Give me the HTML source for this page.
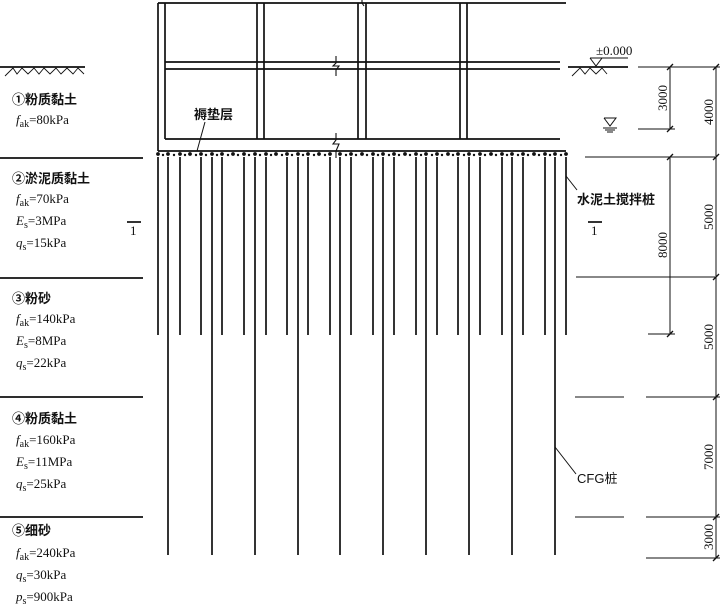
<!DOCTYPE html>
<html><head><meta charset="utf-8"><style>
body{margin:0;background:#fff;}
svg{display:block;}
text{font-family:"Liberation Serif","Noto Serif CJK SC",serif;font-size:13px;fill:#111;}
.c{font-family:"Liberation Sans","Noto Sans CJK SC",sans-serif;font-size:13px;font-weight:bold;}
</style></head><body>
<svg width="723" height="612" viewBox="0 0 723 612" xmlns="http://www.w3.org/2000/svg">
<g stroke="#111" stroke-width="1.7" fill="none">
<!-- frame -->
<line x1="158" y1="3" x2="566" y2="3"/>
<line x1="158" y1="3" x2="158" y2="151"/>
<line x1="165" y1="3" x2="165" y2="139"/>
<line x1="165" y1="139" x2="560" y2="139"/>
<line x1="158" y1="151" x2="566" y2="151"/>
<line x1="165" y1="62" x2="560" y2="62"/>
<line x1="165" y1="69" x2="560" y2="69"/>
<line x1="257" y1="3" x2="257" y2="139"/><line x1="264" y1="3" x2="264" y2="139"/>
<line x1="358" y1="3" x2="358" y2="139"/><line x1="366" y1="3" x2="366" y2="139"/>
<line x1="460" y1="3" x2="460" y2="139"/><line x1="467" y1="3" x2="467" y2="139"/>
<!-- break marks -->
<polyline points="336,56 336,63 333,66 339,66 336,70 336,76" stroke-width="1.1"/>
<polyline points="336,133 336,140 333,144 339,144 336,151 336,158" stroke-width="1.1"/>
<polyline points="362,0 362,3 364,6" stroke-width="1.1"/>
<!-- ground left -->
<line x1="0" y1="67" x2="85" y2="67"/>
<!-- ground right -->
<line x1="568" y1="67" x2="628" y2="67"/>
<polyline points="590,58 596,66 602,58 590,58" stroke-width="1"/>
<line x1="596" y1="58" x2="628" y2="58" stroke-width="1"/>
<!-- water level -->
<polyline points="604,118 610,126 616,118 604,118" stroke-width="1"/>
<line x1="603" y1="128" x2="617" y2="128" stroke-width="1"/>
<line x1="605" y1="130" x2="615" y2="130" stroke-width="1"/>
<line x1="607" y1="132" x2="613" y2="132" stroke-width="1"/>
<!-- layer lines left -->
<line x1="0" y1="158" x2="143" y2="158"/>
<line x1="0" y1="278" x2="143" y2="278"/>
<line x1="0" y1="397" x2="143" y2="397"/>
<line x1="0" y1="517" x2="143" y2="517"/>
<!-- layer lines right -->
<line x1="585" y1="157" x2="715" y2="157" stroke-width="1"/>
<line x1="576" y1="277" x2="715" y2="277" stroke-width="1"/>
<line x1="575" y1="397" x2="624" y2="397" stroke-width="1"/><line x1="646" y1="397" x2="720" y2="397" stroke-width="1"/>
<line x1="575" y1="517" x2="624" y2="517" stroke-width="1"/><line x1="646" y1="517" x2="720" y2="517" stroke-width="1"/>
<line x1="646" y1="558" x2="720" y2="558" stroke-width="1"/>
<line x1="638" y1="67" x2="720" y2="67" stroke-width="1"/>
<line x1="638" y1="129" x2="675" y2="129" stroke-width="1"/>
<line x1="648" y1="334" x2="675" y2="334" stroke-width="1"/>
<!-- dim lines -->
<line x1="670" y1="67" x2="670" y2="129" stroke-width="1"/>
<line x1="670" y1="157" x2="670" y2="334" stroke-width="1"/>
<line x1="716" y1="67" x2="716" y2="558" stroke-width="1"/>
<!-- leaders -->
<line x1="205" y1="122" x2="197" y2="151" stroke-width="1"/>
<line x1="566" y1="176" x2="577" y2="190" stroke-width="1"/>
<line x1="555" y1="447" x2="576" y2="474" stroke-width="1"/>
<!-- section marks -->
<line x1="127" y1="222" x2="141" y2="222"/>
<line x1="588" y1="222" x2="602" y2="222"/>
<path d="M5 76 l8 -8 l4 6 l5 -6 l6 6 l6 -6 l5 6 l5 -6 l6 6 l6 -6 l5 6 l6 -6 l6 6 l5 -6 l6 6" stroke-width="0.9"/>
<path d="M572 76 l8 -8 l5 6 l5 -6 l6 6 l6 -6 l5 6" stroke-width="0.9"/>
</g>
<!-- ticks -->
<g stroke="#111" stroke-width="1.3">
<line x1="667" y1="70" x2="673" y2="64"/><line x1="667" y1="132" x2="673" y2="126"/>
<line x1="667" y1="160" x2="673" y2="154"/><line x1="667" y1="337" x2="673" y2="331"/>
<line x1="713" y1="70" x2="719" y2="64"/><line x1="713" y1="160" x2="719" y2="154"/>
<line x1="713" y1="280" x2="719" y2="274"/><line x1="713" y1="400" x2="719" y2="394"/>
<line x1="713" y1="520" x2="719" y2="514"/><line x1="713" y1="561" x2="719" y2="555"/>
</g>
<!-- piles -->
<g stroke="#111" stroke-width="1.7">
<line x1="158" y1="157" x2="158" y2="335"/><line x1="168" y1="157" x2="168" y2="555"/><line x1="180" y1="157" x2="180" y2="335"/>
<line x1="201" y1="157" x2="201" y2="335"/><line x1="212" y1="157" x2="212" y2="555"/><line x1="222" y1="157" x2="222" y2="335"/>
<line x1="244" y1="157" x2="244" y2="335"/><line x1="255" y1="157" x2="255" y2="555"/><line x1="266" y1="157" x2="266" y2="335"/>
<line x1="287" y1="157" x2="287" y2="335"/><line x1="298" y1="157" x2="298" y2="555"/><line x1="308" y1="157" x2="308" y2="335"/>
<line x1="330" y1="157" x2="330" y2="335"/><line x1="340" y1="157" x2="340" y2="555"/><line x1="351" y1="157" x2="351" y2="335"/>
<line x1="373" y1="157" x2="373" y2="335"/><line x1="383" y1="157" x2="383" y2="555"/><line x1="394" y1="157" x2="394" y2="335"/>
<line x1="416" y1="157" x2="416" y2="335"/><line x1="426" y1="157" x2="426" y2="555"/><line x1="437" y1="157" x2="437" y2="335"/>
<line x1="458" y1="157" x2="458" y2="335"/><line x1="469" y1="157" x2="469" y2="555"/><line x1="480" y1="157" x2="480" y2="335"/>
<line x1="502" y1="157" x2="502" y2="335"/><line x1="512" y1="157" x2="512" y2="555"/><line x1="523" y1="157" x2="523" y2="335"/>
<line x1="545" y1="157" x2="545" y2="335"/><line x1="555" y1="157" x2="555" y2="555"/><line x1="566" y1="157" x2="566" y2="335"/>
</g>
<!-- cushion dots -->
<g fill="#111">
<circle cx="158" cy="154" r="1.9"/><circle cx="163" cy="155" r="1.2"/><circle cx="168" cy="154" r="1.9"/><circle cx="174" cy="155" r="1.2"/><circle cx="180" cy="154" r="1.9"/><circle cx="185" cy="155" r="1.2"/><circle cx="190" cy="154" r="1.9"/><circle cx="196" cy="155" r="1.2"/><circle cx="201" cy="154" r="1.9"/><circle cx="206" cy="155" r="1.2"/><circle cx="212" cy="154" r="1.9"/><circle cx="217" cy="155" r="1.2"/><circle cx="222" cy="154" r="1.9"/><circle cx="228" cy="155" r="1.2"/><circle cx="233" cy="154" r="1.9"/><circle cx="238" cy="155" r="1.2"/><circle cx="244" cy="154" r="1.9"/><circle cx="249" cy="155" r="1.2"/><circle cx="255" cy="154" r="1.9"/><circle cx="260" cy="155" r="1.2"/><circle cx="266" cy="154" r="1.9"/><circle cx="271" cy="155" r="1.2"/><circle cx="276" cy="154" r="1.9"/><circle cx="282" cy="155" r="1.2"/><circle cx="287" cy="154" r="1.9"/><circle cx="292" cy="155" r="1.2"/><circle cx="298" cy="154" r="1.9"/><circle cx="303" cy="155" r="1.2"/><circle cx="308" cy="154" r="1.9"/><circle cx="314" cy="155" r="1.2"/><circle cx="319" cy="154" r="1.9"/><circle cx="325" cy="155" r="1.2"/><circle cx="330" cy="154" r="1.9"/><circle cx="340" cy="154" r="1.9"/><circle cx="346" cy="155" r="1.2"/><circle cx="351" cy="154" r="1.9"/><circle cx="356" cy="155" r="1.2"/><circle cx="362" cy="154" r="1.9"/><circle cx="367" cy="155" r="1.2"/><circle cx="373" cy="154" r="1.9"/><circle cx="378" cy="155" r="1.2"/><circle cx="383" cy="154" r="1.9"/><circle cx="389" cy="155" r="1.2"/><circle cx="394" cy="154" r="1.9"/><circle cx="399" cy="155" r="1.2"/><circle cx="405" cy="154" r="1.9"/><circle cx="410" cy="155" r="1.2"/><circle cx="416" cy="154" r="1.9"/><circle cx="421" cy="155" r="1.2"/><circle cx="426" cy="154" r="1.9"/><circle cx="432" cy="155" r="1.2"/><circle cx="437" cy="154" r="1.9"/><circle cx="442" cy="155" r="1.2"/><circle cx="448" cy="154" r="1.9"/><circle cx="453" cy="155" r="1.2"/><circle cx="458" cy="154" r="1.9"/><circle cx="464" cy="155" r="1.2"/><circle cx="469" cy="154" r="1.9"/><circle cx="474" cy="155" r="1.2"/><circle cx="480" cy="154" r="1.9"/><circle cx="485" cy="155" r="1.2"/><circle cx="491" cy="154" r="1.9"/><circle cx="496" cy="155" r="1.2"/><circle cx="502" cy="154" r="1.9"/><circle cx="507" cy="155" r="1.2"/><circle cx="512" cy="154" r="1.9"/><circle cx="518" cy="155" r="1.2"/><circle cx="523" cy="154" r="1.9"/><circle cx="528" cy="155" r="1.2"/><circle cx="534" cy="154" r="1.9"/><circle cx="539" cy="155" r="1.2"/><circle cx="545" cy="154" r="1.9"/><circle cx="550" cy="155" r="1.2"/><circle cx="555" cy="154" r="1.9"/><circle cx="561" cy="155" r="1.2"/><circle cx="566" cy="154" r="1.9"/>
</g>
<!-- labels -->
<text class="c" x="194" y="119">褥垫层</text>
<text x="596" y="55" font-size="12">±0.000</text>
<text class="c" x="577" y="204">水泥土搅拌桩</text>
<text x="130" y="235">1</text>
<text x="591" y="235">1</text>
<text x="577" y="483" class="c" style="font-weight:normal">CFG桩</text>
<g font-size="12">
<text transform="translate(667,98) rotate(-90)" text-anchor="middle">3000</text>
<text transform="translate(713,112) rotate(-90)" text-anchor="middle">4000</text>
<text transform="translate(713,217) rotate(-90)" text-anchor="middle">5000</text>
<text transform="translate(667,245) rotate(-90)" text-anchor="middle">8000</text>
<text transform="translate(713,337) rotate(-90)" text-anchor="middle">5000</text>
<text transform="translate(713,457) rotate(-90)" text-anchor="middle">7000</text>
<text transform="translate(713,537) rotate(-90)" text-anchor="middle">3000</text>
</g>
<g>
<text class="c" x="12" y="104">①粉质黏土</text>
<text x="16" y="124"><tspan font-style="italic">f</tspan><tspan font-size="10" dy="3">ak</tspan><tspan dy="-3">=80kPa</tspan></text>
<text class="c" x="12" y="183">②淤泥质黏土</text>
<text x="16" y="203"><tspan font-style="italic">f</tspan><tspan font-size="10" dy="3">ak</tspan><tspan dy="-3">=70kPa</tspan></text>
<text x="16" y="225"><tspan font-style="italic">E</tspan><tspan font-size="10" dy="3">s</tspan><tspan dy="-3">=3MPa</tspan></text>
<text x="16" y="247"><tspan font-style="italic">q</tspan><tspan font-size="10" dy="3">s</tspan><tspan dy="-3">=15kPa</tspan></text>
<text class="c" x="12" y="303">③粉砂</text>
<text x="16" y="323"><tspan font-style="italic">f</tspan><tspan font-size="10" dy="3">ak</tspan><tspan dy="-3">=140kPa</tspan></text>
<text x="16" y="345"><tspan font-style="italic">E</tspan><tspan font-size="10" dy="3">s</tspan><tspan dy="-3">=8MPa</tspan></text>
<text x="16" y="367"><tspan font-style="italic">q</tspan><tspan font-size="10" dy="3">s</tspan><tspan dy="-3">=22kPa</tspan></text>
<text class="c" x="12" y="423">④粉质黏土</text>
<text x="16" y="444"><tspan font-style="italic">f</tspan><tspan font-size="10" dy="3">ak</tspan><tspan dy="-3">=160kPa</tspan></text>
<text x="16" y="466"><tspan font-style="italic">E</tspan><tspan font-size="10" dy="3">s</tspan><tspan dy="-3">=11MPa</tspan></text>
<text x="16" y="488"><tspan font-style="italic">q</tspan><tspan font-size="10" dy="3">s</tspan><tspan dy="-3">=25kPa</tspan></text>
<text class="c" x="12" y="535">⑤细砂</text>
<text x="16" y="557"><tspan font-style="italic">f</tspan><tspan font-size="10" dy="3">ak</tspan><tspan dy="-3">=240kPa</tspan></text>
<text x="16" y="579"><tspan font-style="italic">q</tspan><tspan font-size="10" dy="3">s</tspan><tspan dy="-3">=30kPa</tspan></text>
<text x="16" y="601"><tspan font-style="italic">p</tspan><tspan font-size="10" dy="3">s</tspan><tspan dy="-3">=900kPa</tspan></text>
</g>
</svg>
</body></html>
